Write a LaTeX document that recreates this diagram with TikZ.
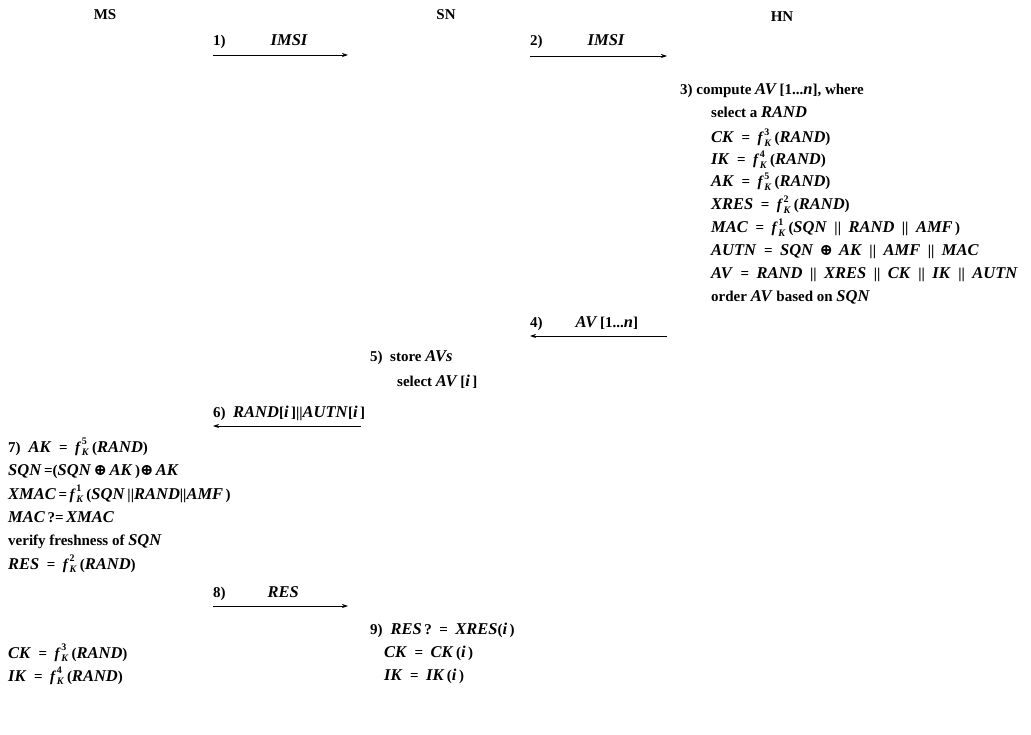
\documentclass[tikz,border=0pt]{standalone}
\usepackage{fontspec}
\setmainfont{Liberation Serif}
\newfontfamily\symf{DejaVu Serif}
\usetikzlibrary{arrows.meta}
\newcommand\V[1]{{\fontsize{16.5}{18}\selectfont\textit{#1}}}
\newcommand\fK[1]{\textit{f}\kern0.5pt\rlap{\raisebox{1.15ex}{\fontsize{10}{10}\selectfont #1}}\raisebox{-0.45ex}{\fontsize{10}{10}\selectfont\itshape K}\hskip 3.5pt}
\newcommand\xor{{\symf\fontsize{16}{16}\selectfont ⊕}}
\newcommand\cat{\hskip 7.5pt||\hskip 7.5pt}
\newcommand\eq{\hskip 7.5pt=\hskip 7.5pt}
\begin{document}
\begin{tikzpicture}[x=1pt,y=-1pt,
  every node/.style={inner sep=0pt, anchor=base west, font=\fontsize{15}{18}\selectfont\bfseries},
  msg/.style={-{Stealth[length=6pt,width=4pt]}, line width=0.7pt}]
\useasboundingbox (0,0) rectangle (1031,735);
% entities
\node[anchor=base] (ms) at (105,20) {MS};
\node[anchor=base] (sn) at (446,20) {SN};
\node[anchor=base] (hn) at (782,22) {HN};
% 1
\node (l1) at (213,46) {1)\hskip 45pt\V{IMSI}};
\coordinate (a1s) at (213,55); \coordinate (a1e) at (348,55);
\draw[msg] (a1s) -- (a1e);
% 2
\node (l2) at (530,46) {2)\hskip 45pt\V{IMSI}};
\coordinate (a2s) at (530,56); \coordinate (a2e) at (667,56);
\draw[msg] (a2s) -- (a2e);
% 3
\node (s3) at (680,95) {3) compute \V{AV}\,[1...\V{n}], where};
\node (h1) at (711,118) {select a \V{RAND}};
\node (h2) at (711,143) {\V{CK}\eq\fK{3}(\V{RAND})};
\node (h3) at (711,165) {\V{IK}\eq\fK{4}(\V{RAND})};
\node (h4) at (711,187) {\V{AK}\eq\fK{5}(\V{RAND})};
\node (h5) at (711,210) {\V{XRES}\eq\fK{2}(\V{RAND})};
\node (h6) at (711,233) {\V{MAC}\eq\fK{1}(\V{SQN}\cat\V{RAND}\cat\V{AMF}\,)};
\node (h7) at (711,256) {\V{AUTN}\eq\V{SQN}\hskip 6pt\xor\hskip 6pt\V{AK}\cat\V{AMF}\cat\V{MAC}};
\node (h8) at (711,279) {\V{AV}\eq\V{RAND}\cat\V{XRES}\cat\V{CK}\cat\V{IK}\cat\V{AUTN}};
\node (h9) at (711,302) {order \V{AV} based on \V{SQN}};
% 4
\node (l4) at (530,327) {4)\hskip 33pt\V{AV}\,[1...\V{n}]};
\coordinate (a4s) at (667,336); \coordinate (a4e) at (530,336);
\draw[msg] (a4s) -- (a4e);
% 5
\node (s5) at (370,362) {5)\ \ store \V{AVs}};
\node (s5b) at (397,386) {select \V{AV}\,[\V{i}\,]};
% 6
\node (l6) at (213,417) {6)\ \ \V{RAND}[\V{i}\,]||\V{AUTN}[\V{i}\,]};
\coordinate (a6s) at (361,426); \coordinate (a6e) at (213,426);
\draw[msg] (a6s) -- (a6e);
% 7
\node (m1) at (8,452) {7)\hskip 8pt\V{AK}\eq\fK{5}(\V{RAND})};
\node (m2) at (8,475) {\V{SQN}\,=(\V{SQN}\,\xor\,\V{AK}\,)\xor\,\V{AK}};
\node (m3) at (8,499) {\V{XMAC}\,=\,\fK{1}(\V{SQN}\,||\V{RAND}||\V{AMF}\,)};
\node (m4) at (8,522) {\V{MAC}\,?=\,\V{XMAC}};
\node (m5) at (8,545) {verify freshness of \V{SQN}};
\node (m6) at (8,569) {\V{RES}\eq\fK{2}(\V{RAND})};
% 8
\node (l8) at (213,597) {8)\hskip 42pt\V{RES}};
\coordinate (a8s) at (213,606); \coordinate (a8e) at (348,606);
\draw[msg] (a8s) -- (a8e);
% 9
\node (s9) at (370,634) {9)\hskip 8pt\V{RES}\,?\eq\V{XRES}(\V{i}\,)};
\node (s9b) at (384,657) {\V{CK}\eq\V{CK}\,(\V{i}\,)};
\node (s9c) at (384,680) {\V{IK}\eq\V{IK}\,(\V{i}\,)};
\node (m7) at (8,658) {\V{CK}\eq\fK{3}(\V{RAND})};
\node (m8) at (8,681) {\V{IK}\eq\fK{4}(\V{RAND})};
\end{tikzpicture}
\end{document}
